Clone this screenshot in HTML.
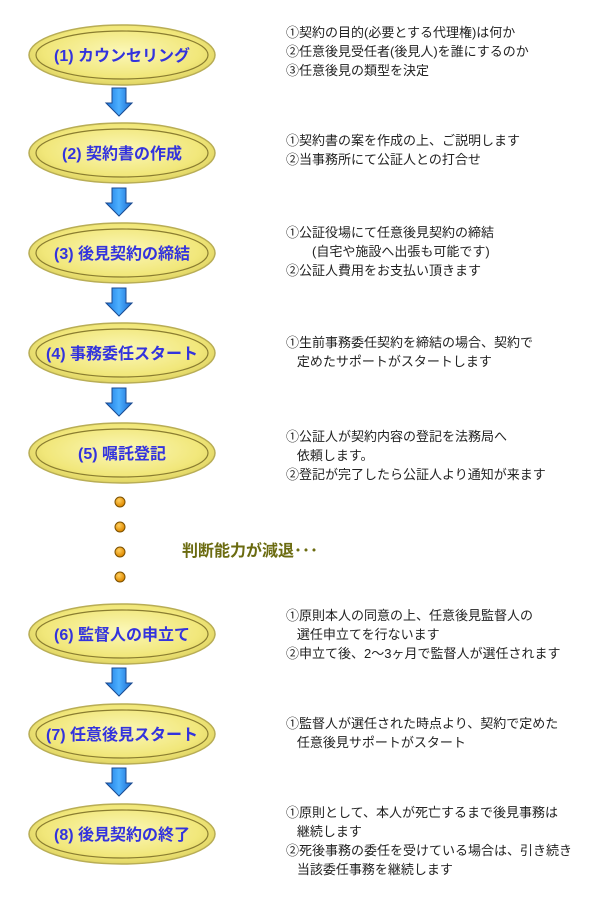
<!DOCTYPE html><html><head><meta charset="utf-8"><style>
body{margin:0;width:600px;height:910px;background:#fff;position:relative;font-family:"Liberation Sans","Noto Sans CJK JP",sans-serif;overflow:hidden}
.t{position:absolute;left:286px;font-size:13px;line-height:19px;color:#222;white-space:nowrap}
</style></head><body>
<svg width="600" height="910" style="position:absolute;left:0;top:0">
<defs>
<radialGradient id="g" cx="50%" cy="45%" r="60%"><stop offset="0" stop-color="#fbf7b8"/><stop offset="0.7" stop-color="#f1e77a"/><stop offset="1" stop-color="#d8cc5a"/></radialGradient>
<linearGradient id="a" x1="0" x2="1"><stop offset="0" stop-color="#1a78e0"/><stop offset="0.5" stop-color="#4db0ff"/><stop offset="1" stop-color="#1a6ad0"/></linearGradient>
<radialGradient id="d" cx="40%" cy="35%" r="60%"><stop offset="0" stop-color="#ffd060"/><stop offset="1" stop-color="#e08a00"/></radialGradient>
<g id="e"><ellipse cx="0" cy="0" rx="93" ry="30" fill="url(#g)" stroke="#b8ad55" stroke-width="1.5"/><ellipse cx="0" cy="0" rx="86" ry="24" fill="none" stroke="#8a7d30" stroke-width="1.2"/></g>
<g id="ar"><path d="M-7,0 H7 V15 H13 L0,28 L-13,15 H-7 Z" fill="url(#a)" stroke="#1a4a90" stroke-width="1"/></g>
</defs>
<use href="#e" x="122" y="55"/><use href="#e" x="122" y="153"/><use href="#e" x="122" y="253"/><use href="#e" x="122" y="353"/><use href="#e" x="122" y="453"/><use href="#e" x="122" y="634"/><use href="#e" x="122" y="734"/><use href="#e" x="122" y="834"/>
<use href="#ar" x="119" y="88"/><use href="#ar" x="119" y="188"/><use href="#ar" x="119" y="288"/><use href="#ar" x="119" y="388"/><use href="#ar" x="119" y="668"/><use href="#ar" x="119" y="768"/>
<g fill="url(#d)" stroke="#7a5000" stroke-width="1"><circle cx="120" cy="502" r="5"/><circle cx="120" cy="527" r="5"/><circle cx="120" cy="552" r="5"/><circle cx="120" cy="577" r="5"/></g>
<g font-family="Liberation Sans,Noto Sans CJK JP,sans-serif" font-size="16" font-weight="bold" fill="#3333dd" text-anchor="middle">
<text x="122" y="61">(1) カウンセリング</text>
<text x="122" y="159">(2) 契約書の作成</text>
<text x="122" y="259">(3) 後見契約の締結</text>
<text x="122" y="359">(4) 事務委任スタート</text>
<text x="122" y="459">(5) 嘱託登記</text>
<text x="122" y="640">(6) 監督人の申立て</text>
<text x="122" y="740">(7) 任意後見スタート</text>
<text x="122" y="840">(8) 後見契約の終了</text>
</g>
<text x="182" y="556" font-family="Liberation Sans,Noto Sans CJK JP,sans-serif" font-size="16" font-weight="bold" fill="#6b6b10">判断能力が減退･･･</text>
</svg>
<div class="t" style="top:23px">①契約の目的(必要とする代理権)は何か<br>②任意後見受任者(後見人)を誰にするのか<br>③任意後見の類型を決定</div>
<div class="t" style="top:131px">①契約書の案を作成の上、ご説明します<br>②当事務所にて公証人との打合せ</div>
<div class="t" style="top:223px">①公証役場にて任意後見契約の締結<br>&emsp;　(自宅や施設へ出張も可能です)<br>②公証人費用をお支払い頂きます</div>
<div class="t" style="top:333px">①生前事務委任契約を締結の場合、契約で<br>&nbsp;&nbsp;&nbsp;定めたサポートがスタートします</div>
<div class="t" style="top:427px">①公証人が契約内容の登記を法務局へ<br>&nbsp;&nbsp;&nbsp;依頼します。<br>②登記が完了したら公証人より通知が来ます</div>
<div class="t" style="top:606px">①原則本人の同意の上、任意後見監督人の<br>&nbsp;&nbsp;&nbsp;選任申立てを行ないます<br>②申立て後、2～3ヶ月で監督人が選任されます</div>
<div class="t" style="top:714px">①監督人が選任された時点より、契約で定めた<br>&nbsp;&nbsp;&nbsp;任意後見サポートがスタート</div>
<div class="t" style="top:803px">①原則として、本人が死亡するまで後見事務は<br>&nbsp;&nbsp;&nbsp;継続します<br>②死後事務の委任を受けている場合は、引き続き<br>&nbsp;&nbsp;&nbsp;当該委任事務を継続します</div>
</body></html>
